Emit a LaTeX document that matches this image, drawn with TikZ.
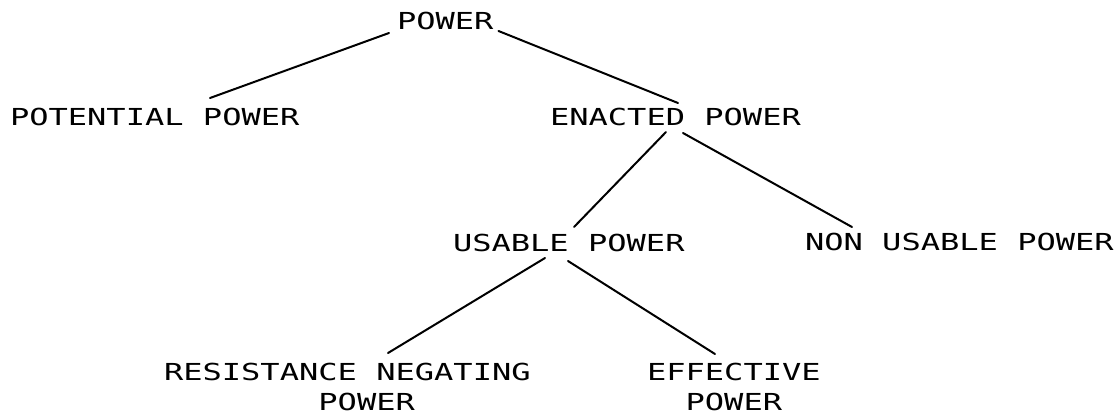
\documentclass[tikz,border=0pt]{standalone}
\usepackage{fontspec}
\newfontfamily\plotfont[FakeStretch=1.37]{DejaVu Sans Mono}
\begin{document}
\begin{tikzpicture}[x=1pt,y=-1pt,
  lbl/.style={inner sep=0pt, outer sep=0pt, anchor=west, font=\plotfont\fontsize{23.4}{30.5}\selectfont},
  lbl2/.style={lbl, anchor=north west, align=left},
  conn/.style={line width=2pt, line cap=round}]
\path[fill=white] (0,0) rectangle (1119,416);
\useasboundingbox (0,0) rectangle (1119,416);
\node[lbl] (power) at (397,21) {POWER};
\node[lbl] (potential) at (10,117) {POTENTIAL POWER};
\node[lbl] (enacted) at (550,117) {ENACTED POWER};
\node[lbl] (usable) at (453,243) {USABLE POWER};
\node[lbl] (nonusable) at (805,242) {NON USABLE POWER};
\node[lbl2] (resist) at (164,363) {RESISTANCE NEGATING\\\hphantom{XXXXXXXX}POWER};
\node[lbl2] (effective) at (647,363) {EFFECTIVE\\\hphantom{XX}POWER};
\draw[conn] ([shift={(-8,12)}]power.west) -- ([shift={(200,-19)}]potential.west);
\draw[conn] ([shift={(5,10)}]power.east) -- ([shift={(128,-14)}]enacted.west);
\draw[conn] ([shift={(116,15)}]enacted.west) -- ([shift={(121,-16)}]usable.west);
\draw[conn] ([shift={(133,16)}]enacted.west) -- ([shift={(47,-15)}]nonusable.west);
\draw[conn] ([shift={(92,15)}]usable.west) -- ([shift={(224,-10)}]resist.north west);
\draw[conn] ([shift={(115,18)}]usable.west) -- ([shift={(68,-9)}]effective.north west);
\end{tikzpicture}
\end{document}
